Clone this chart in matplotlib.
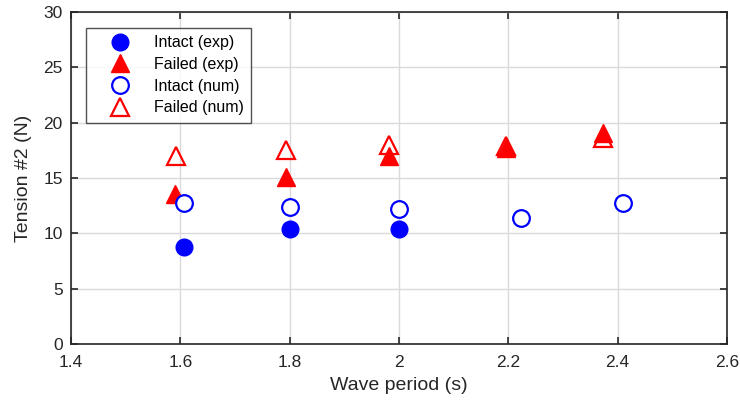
import matplotlib.pyplot as plt

plt.rcParams["font.family"] = ["Liberation Sans", "DejaVu Sans"]

# data
intact_exp_x = [1.606, 1.800, 2.000]
intact_exp_y = [8.73, 10.36, 10.39]

failed_exp_x = [1.590, 1.793, 1.981, 2.195, 2.373]
failed_exp_y = [13.55, 15.06, 16.97, 17.70, 19.03]

intact_num_x = [1.606, 1.800, 2.000, 2.223, 2.410]
intact_num_y = [12.71, 12.38, 12.22, 11.35, 12.71]

failed_num_x = [1.592, 1.793, 1.981, 2.195, 2.373]
failed_num_y = [16.98, 17.52, 17.98, 17.89, 18.58]

x_ticks = [1.4, 1.6, 1.8, 2.0, 2.2, 2.4, 2.6]
x_tick_labels = ["1.4", "1.6", "1.8", "2", "2.2", "2.4", "2.6"]
y_ticks = [0, 5, 10, 15, 20, 25, 30]

fig = plt.figure(figsize=(7.4, 4.05), dpi=100)
ax = fig.add_axes([0.0959, 0.1506, 0.8865, 0.8194])

ax.plot(intact_exp_x, intact_exp_y, "o", color="blue", ms=12, mec="blue",
        label="Intact (exp)", zorder=3)
ax.plot(failed_exp_x, failed_exp_y, "^", color="red", ms=13, mec="red",
        label="Failed (exp)", zorder=3)
ax.plot(intact_num_x, intact_num_y, "o", mfc="white", mec="blue", mew=1.6, ms=12,
        label="Intact (num)", zorder=4)
ax.plot(failed_num_x, failed_num_y, "^", mfc="none", mec="red", mew=1.6, ms=13,
        label="Failed (num)", zorder=4)

ax.set_xlim(1.4, 2.6)
ax.set_ylim(0, 30)
ax.set_xticks(x_ticks)
ax.set_xticklabels(x_tick_labels)
ax.set_yticks(y_ticks)
ax.grid(True, color="#dadada", linewidth=1.0)
ax.set_axisbelow(True)
ax.tick_params(direction="in", length=5, width=1.2, top=True, right=True,
               labelsize=12.5, colors="#262626")
ax.tick_params(axis="x", pad=8)
ax.tick_params(axis="y", pad=6)
for spine in ax.spines.values():
    spine.set_linewidth(1.2)
    spine.set_color("#262626")

ax.set_xlabel("Wave period (s)", fontsize=14, color="#262626", labelpad=5)
ax.set_ylabel("Tension #2 (N)", fontsize=14, color="#262626", labelpad=8)

leg = ax.legend(loc="upper left", bbox_to_anchor=(0.023, 0.952), fontsize=11.5,
                frameon=True, fancybox=False, edgecolor="#262626",
                borderpad=0.45, labelspacing=0.42, handletextpad=0.4,
                handlelength=3.4, borderaxespad=0)
leg.get_frame().set_linewidth(1.0)

fig.savefig("out.png", dpi=100)
